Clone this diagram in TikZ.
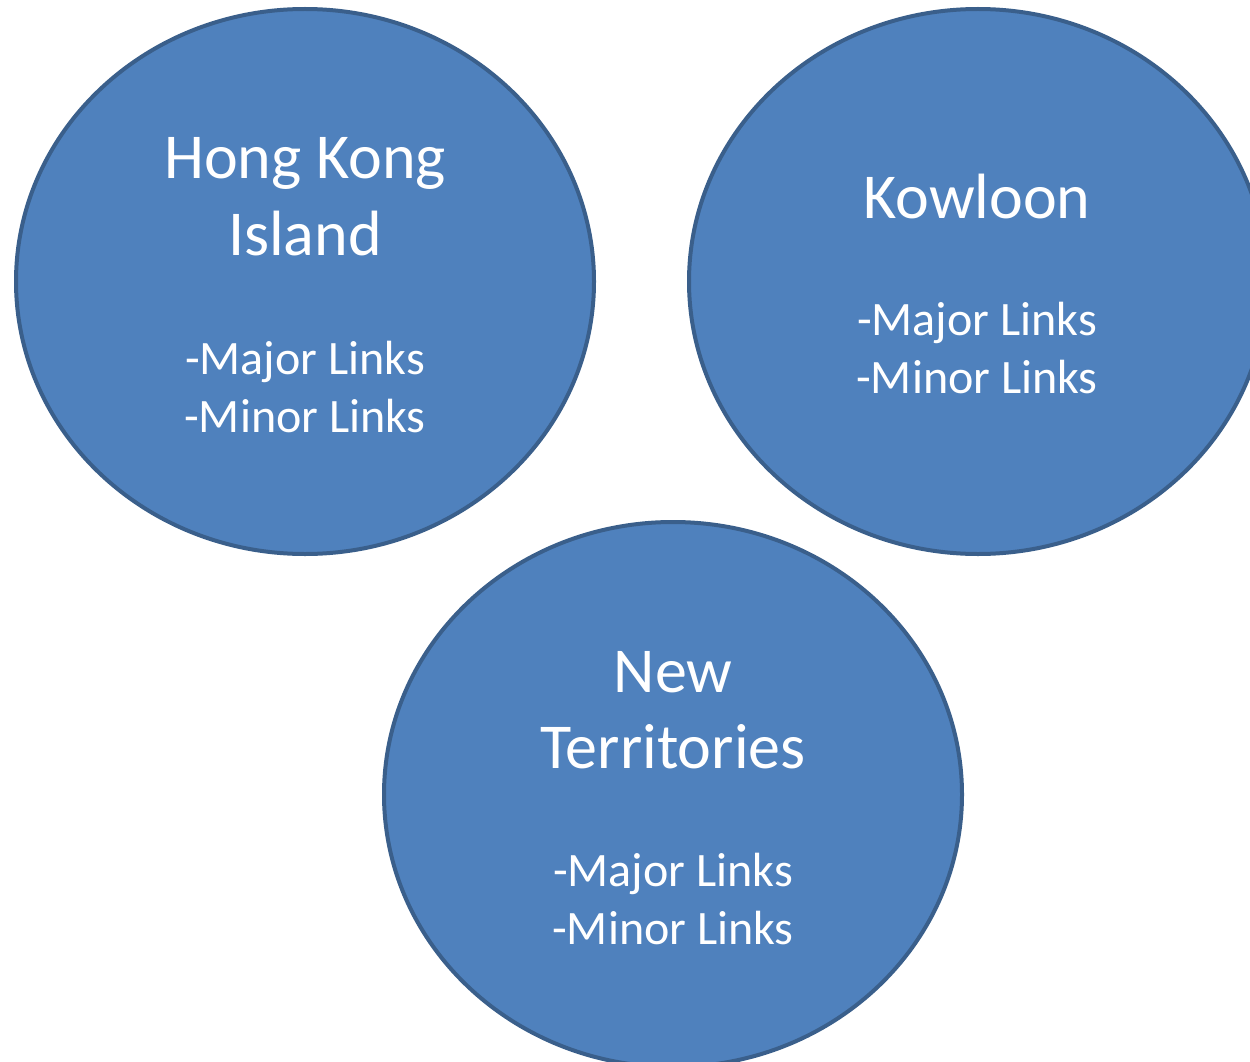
\documentclass[tikz,border=0pt]{standalone}
\usepackage{fontspec}
\setmainfont{Carlito}
\usetikzlibrary{shapes.geometric}
\definecolor{blobfill}{HTML}{4F81BD}
\definecolor{blobline}{HTML}{3A5F8B}
\tikzset{
  blob/.style={ellipse, draw=blobline, line width=4pt, fill=blobfill, inner sep=0pt,
    minimum width=578pt, minimum height=545pt},
  title/.style={anchor=base, text=white, inner sep=0pt, font=\fontsize{64}{77}\selectfont},
  sub/.style={anchor=base, text=white, inner sep=0pt, font=\fontsize{48}{58}\selectfont}
}
\begin{document}
\begin{tikzpicture}[x=1pt,y=-1pt]
\useasboundingbox (0,0) rectangle (1250,1062);
\clip (0,0) rectangle (1250,1062);
\node[blob] (hk) at (305,281.5) {};
\node[blob] (kl) at (978,281.5) {};
\node[blob] (nt) at (673,794.5) {};
% Hong Kong Island
\node[title] (hk1) at (305,178) {Hong Kong};
\node[title] (hk2) at (305,255) {Island};
\node[sub] (hk3) at (305,374) {-Major Links};
\node[sub] (hk4) at (305,432) {-Minor Links};
% Kowloon
\node[title] (kl1) at (977,218) {Kowloon};
\node[sub] (kl3) at (977,335) {-Major Links};
\node[sub] (kl4) at (977,393) {-Minor Links};
% New Territories
\node[title] (nt1) at (673,692) {New};
\node[title] (nt2) at (673,768) {Territories};
\node[sub] (nt3) at (673,886) {-Major Links};
\node[sub] (nt4) at (673,944) {-Minor Links};
\end{tikzpicture}
\end{document}
